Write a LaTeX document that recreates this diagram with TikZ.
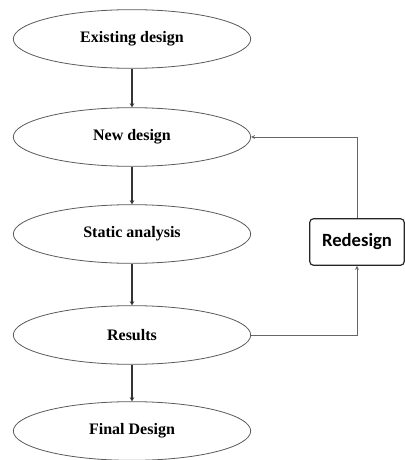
\documentclass[tikz,border=0pt]{standalone}
\usepackage{fontspec}
\setmainfont{Liberation Serif}
\newfontfamily\boxfont{Carlito}
\usetikzlibrary{shapes.geometric,arrows.meta}

\begin{document}
\begin{tikzpicture}[x=.75pt, y=-.75pt,
  stage/.style={ellipse, draw=black!65, line width=.6pt, minimum width=178pt,
    minimum height=44pt, inner sep=0pt, font=\bfseries\fontsize{12}{14}\selectfont},
  redobox/.style={draw=black!85, line width=.9pt, rounded corners=3pt,
    minimum width=71pt, minimum height=35pt, inner sep=0pt,
    font=\boxfont\bfseries\fontsize{14}{16}\selectfont},
  flow/.style={black!80, line width=1.2pt, -{Stealth[length=3pt, width=3.5pt]}},
  back/.style={black!60, line width=.7pt, -{Stealth[length=3pt, width=3pt]}}]
  \useasboundingbox (0,0) rectangle (404,460);
  % main chain
  \foreach \name/\y/\txt in {exist/39/Existing design, new/137/New design,
    static/234/Static analysis, res/335/Results, final/431/Final Design}
    \node[stage] (\name) at (132,\y) {\txt};
  \node[redobox] (redo) at (357,242) {Redesign};
  \foreach \a/\b in {exist/new, new/static, static/res, res/final}
    \draw[flow] (\a) -- (\b);
  % loop back
  \draw[back] (res.east) -| (redo.south);
  \draw[back] (redo.north) |- (new.east);
\end{tikzpicture}
\end{document}
